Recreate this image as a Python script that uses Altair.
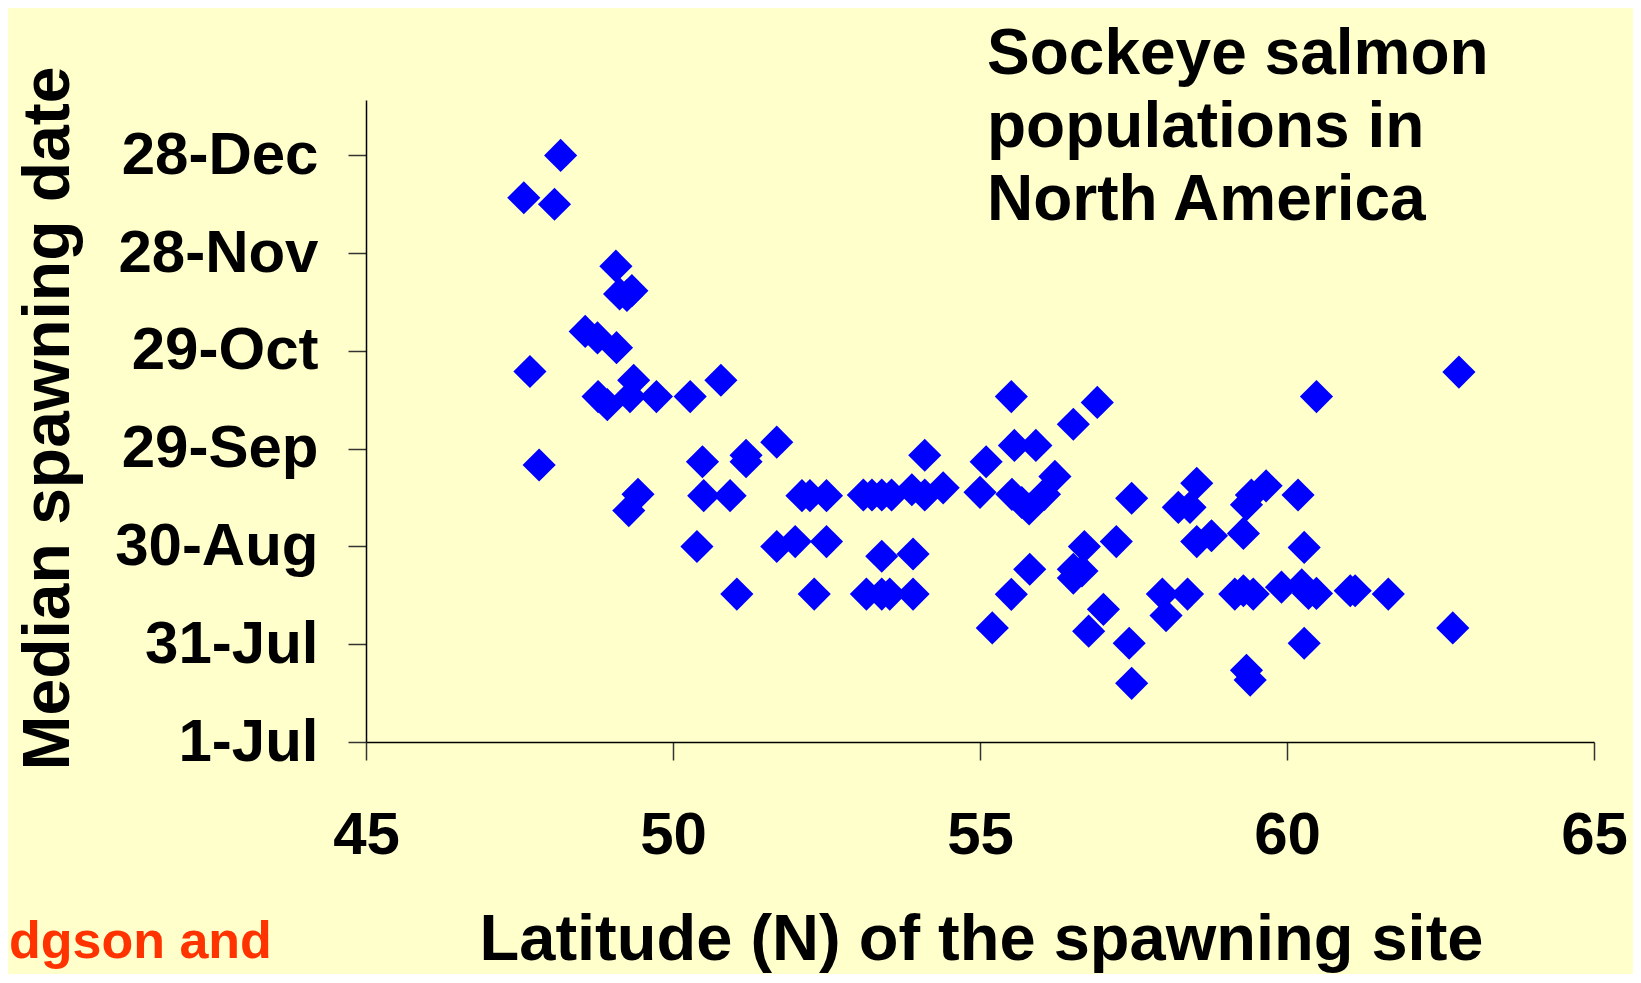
import altair as alt
import pandas as pd

# Latitude (degrees N) of each spawning site
LAT = [48.17, 47.57, 48.07, 49.07, 49.13, 49.25, 49.33, 48.57, 48.77, 49.08,
       47.67, 49.36, 48.78, 48.93, 49.30, 49.73, 50.28, 50.78, 47.82, 49.43,
       49.28, 50.48, 50.50, 50.93, 50.39, 51.04, 51.19, 51.19, 51.69, 52.10,
       52.23, 52.50, 51.69, 51.99, 52.50, 52.30, 54.10, 53.10, 53.24, 53.40,
       53.56, 53.89, 54.10, 54.40, 53.40, 53.91, 53.15, 53.40, 53.53, 53.91,
       55.51, 56.91, 56.52, 55.56, 55.91, 55.10, 55.00, 55.52, 55.68, 55.80,
       56.05, 56.22, 56.70, 56.52, 56.52, 56.66, 55.81, 55.51, 55.20, 57.01,
       56.77, 58.53, 58.23, 58.42, 57.47, 57.22, 58.53, 58.77, 59.29, 59.34,
       59.42, 57.97, 58.38, 58.03, 59.15, 59.29, 59.45, 57.43, 57.47, 59.34,
       59.40, 60.48, 59.66, 60.18, 60.28, 59.91, 60.24, 60.35, 60.48, 61.03,
       61.11, 61.65, 60.28, 62.80, 62.70]

# Median spawning date, as days after 1 July
DAY = [180, 167, 165, 146, 137.5, 137, 138.5, 126, 124, 121,
       113.7, 111, 106, 103.5, 106, 106, 106, 111, 85, 76,
       71, 86, 75.6, 75.6, 60, 45.4, 88, 86, 92, 75.6,
       75.6, 75.6, 60, 61.5, 61.5, 45.4, 88, 75.8, 75.8, 75.8,
       75.8, 77.4, 75.8, 78, 57, 57.7, 45.4, 45.4, 45.4, 45.4,
       106, 104.2, 97.5, 91, 91, 86, 76.6, 76, 73.5, 71.5,
       76, 81.5, 60, 53, 50.3, 52.5, 53, 45.3, 35, 40.7,
       34, 79.4, 72, 72, 74.8, 61.5, 61.5, 63.3, 64, 72.8,
       75.8, 45.4, 45.4, 38.8, 45.4, 46.4, 45.4, 30.3, 18, 22,
       19, 106, 78.6, 75.8, 59.7, 47.5, 48.2, 45.6, 45.6, 46.4,
       46.4, 45.4, 30.3, 113.5, 35]

X_TICKS = [45, 50, 55, 60, 65]
Y_TICKS = [0, 30, 60, 90, 120, 150, 180]
Y_LABELS = ["1-Jul", "31-Jul", "30-Aug", "29-Sep", "29-Oct", "28-Nov", "28-Dec"]
TITLE_LINES = ["Sockeye salmon", "populations in", "North America"]
X_TITLE = "Latitude (N) of the spawning site"
Y_TITLE = "Median spawning date"
FOOTNOTE = "dgson and"

FONT = "Liberation Sans"
BG = "#FFFFCC"

df = pd.DataFrame({"lat": LAT, "day": DAY})
label_expr = "[" + ",".join("'%s'" % s for s in Y_LABELS) + "][round(datum.value/30)]"

points = alt.Chart(df).mark_point(
    shape="diamond", filled=True, size=1100, color="#0000FF", opacity=1, strokeWidth=0
).encode(
    x=alt.X("lat:Q",
            scale=alt.Scale(domain=[45, 65], nice=False, zero=False),
            axis=alt.Axis(values=X_TICKS, title=X_TITLE, grid=False, tickSize=18,
                          labelFontSize=60, labelPadding=46, labelFlush=False,
                          labelOverlap=False, labelLimit=0, titleFontSize=65,
                          titleX=615, titleY=217, titleLimit=0,
                          titleAlign="center", titleBaseline="alphabetic")),
    y=alt.Y("day:Q",
            scale=alt.Scale(domain=[0, 197], nice=False, zero=False),
            axis=alt.Axis(values=Y_TICKS, labelExpr=label_expr, title=Y_TITLE, grid=False,
                          tickSize=18, labelFontSize=60, labelPadding=30, labelFlush=False,
                          labelOverlap=False, labelLimit=0, labelAlign="right",
                          labelBaseline="middle", titleLimit=0,
                          titleFontSize=66, titleAngle=270, titleX=-298, titleY=318,
                          titleAlign="center", titleBaseline="alphabetic")),
)

title = alt.Chart(pd.DataFrame({"k": [0]})).mark_text(
    text=TITLE_LINES, font=FONT, fontSize=64, fontWeight="bold", color="black",
    align="left", baseline="alphabetic", lineHeight=73
).encode(x=alt.value(621), y=alt.value(-26))

foot = alt.Chart(pd.DataFrame({"k": [0]})).mark_text(
    text=FOOTNOTE, font=FONT, fontSize=52, fontWeight="bold", color="#FF3300",
    align="left", baseline="alphabetic"
).encode(x=alt.value(-357), y=alt.value(858))

chart = alt.layer(points, title, foot).properties(
    width=1228, height=642,
    padding={"left": 358, "top": 92, "right": 39, "bottom": 232},
    autosize=alt.AutoSizeParams(type="none"),
    background=BG,
).configure_view(stroke=None).configure_axis(
    labelFont=FONT, titleFont=FONT, labelFontWeight="bold", titleFontWeight="bold",
    labelColor="black", titleColor="black", domainColor="black", domainWidth=1.5,
    tickColor="#333333", tickWidth=1.5
)

chart.save("out.html", embed_options={"renderer": "svg", "actions": False})
